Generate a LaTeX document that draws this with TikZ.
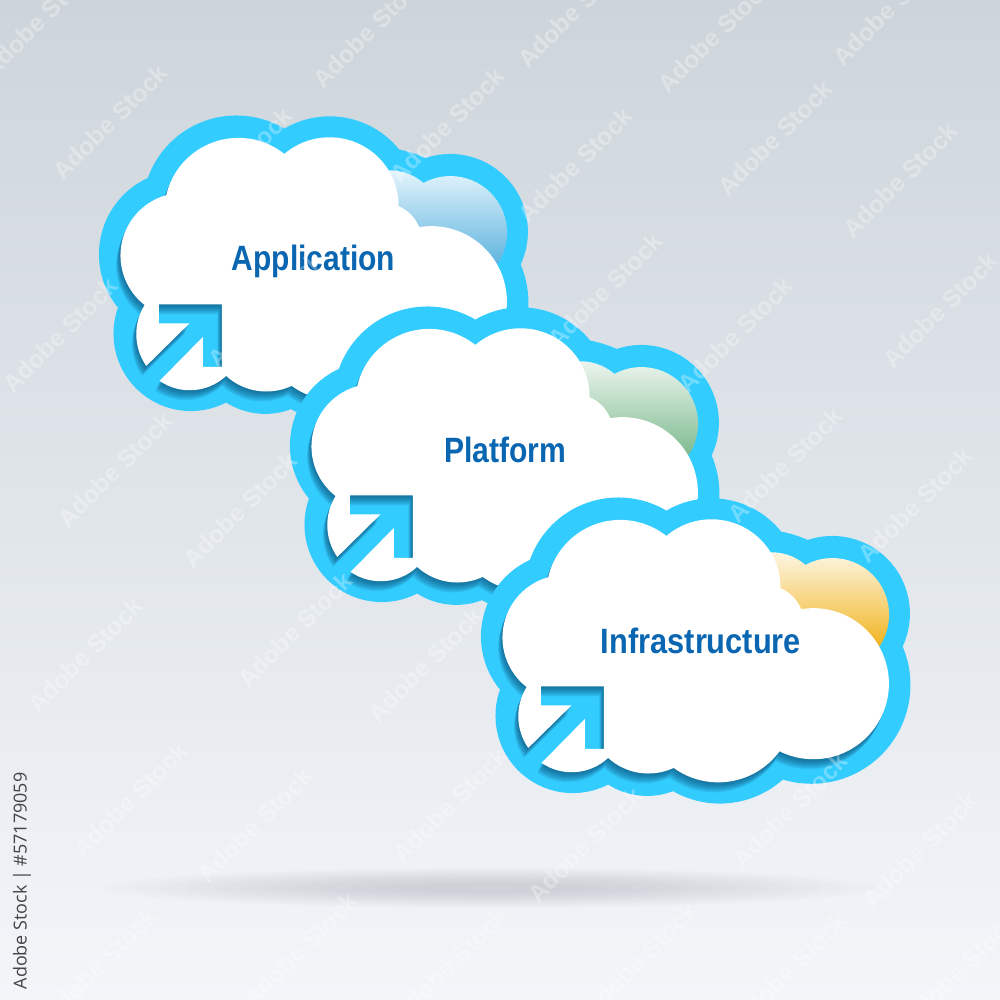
\documentclass[tikz,border=0pt]{standalone}
\usepackage{fontspec}
\usepackage{graphicx}
\setmainfont{Liberation Sans}
\newfontfamily\sidefont{Open Sans}
\definecolor{ringblue}{HTML}{33CCFF}
\definecolor{labelblue}{HTML}{0A66B0}
\definecolor{shadeblue}{HTML}{0B4F78}
\definecolor{bgtop}{HTML}{CDD5DB}
\definecolor{bgbottom}{HTML}{F3F5F9}
\definecolor{groundgrey}{HTML}{5A5A66}
\definecolor{sidegrey}{HTML}{444444}
\definecolor{bluetop}{HTML}{E6F5FC}
\definecolor{bluebot}{HTML}{5FB4DF}
\definecolor{greentop}{HTML}{EFF6F0}
\definecolor{greenbot}{HTML}{7DBB90}
\definecolor{goldtop}{HTML}{FEF8E8}
\definecolor{goldbot}{HTML}{F0B420}
% one clockwise arc through three points; appended to \curpath
\newcommand\lobe[6]{%
 \pgfmathsetmacro\xa{#1/100}\pgfmathsetmacro\ya{#2/100}%
 \pgfmathsetmacro\xb{#3/100}\pgfmathsetmacro\yb{#4/100}%
 \pgfmathsetmacro\xc{#5/100}\pgfmathsetmacro\yc{#6/100}%
 \pgfmathsetmacro\dd{2*(\xa*(\yb-\yc)+\xb*(\yc-\ya)+\xc*(\ya-\yb))}%
 \pgfmathsetmacro\sa{\xa*\xa+\ya*\ya}\pgfmathsetmacro\sb{\xb*\xb+\yb*\yb}\pgfmathsetmacro\sc{\xc*\xc+\yc*\yc}%
 \pgfmathsetmacro\ux{(\sa*(\yb-\yc)+\sb*(\yc-\ya)+\sc*(\ya-\yb))/\dd}%
 \pgfmathsetmacro\uy{(\sa*(\xc-\xb)+\sb*(\xa-\xc)+\sc*(\xb-\xa))/\dd}%
 \pgfmathsetmacro\ca{atan2(\ya-\uy,\xa-\ux)}%
 \pgfmathsetmacro\cb{atan2(\yc-\uy,\xc-\ux)}%
 \pgfmathsetmacro\cb{\cb<\ca?\cb+360:\cb}%
 \pgfmathsetmacro\rr{100*sqrt((\xa-\ux)*(\xa-\ux)+(\ya-\uy)*(\ya-\uy))}%
 \xdef\curpath{\curpath -- (#1,#2) arc[start angle=\ca,end angle=\cb,radius=\rr]}%
}
\gdef\curpath{(145,775)}
\lobe{145}{775}{115}{680}{140}{592}
\lobe{140}{592}{68}{430}{205}{262}
\lobe{205}{262}{370}{96}{560}{138}
\lobe{560}{138}{700}{88}{875}{190}
\lobe{875}{190}{896}{240}{903}{295}
\lobe{903}{295}{940}{320}{965}{358}
\lobe{965}{358}{1227}{610}{900}{785}
\lobe{900}{785}{730}{878}{582}{835}
\lobe{582}{835}{480}{850}{385}{805}
\lobe{385}{805}{270}{848}{185}{820}
\xdef\whitepath{\curpath -- (185,820) -- (315,688) -- (315,778) -- (372,778) -- (372,590) -- (183,590) -- (183,647) -- (275,647) -- cycle}
\gdef\curpath{(60,600)}
\lobe{60}{600}{3}{450}{150}{210}
\lobe{150}{210}{360}{28}{560}{62}
\lobe{560}{62}{700}{25}{905}{125}
\lobe{905}{125}{945}{135}{985}{150}
\lobe{985}{150}{1226}{209}{1270}{470}
\lobe{1270}{470}{1293}{600}{910}{870}
\lobe{910}{870}{730}{942}{580}{905}
\lobe{580}{905}{480}{918}{385}{885}
\lobe{385}{885}{115}{843}{60}{600}
\xdef\outerpath{\curpath -- cycle}
\gdef\curpath{(860,188)}
\lobe{860}{188}{925}{195}{978}{225}
\lobe{978}{225}{1180}{255}{1200}{470}
\xdef\backlobe{\curpath -- (1000,470) -- (860,470) -- cycle}
\newcommand\cloudlayer[4]{%
 \begin{scope}[shift={(#1,#2)},x=.0033333cm,y=-.0033333cm]
  \fill[ringblue] \outerpath;
  \shade[top color=#3,bottom color=#4] \backlobe;
  \begin{scope}
   \clip \outerpath;
   \foreach \k in {1,...,10}{
    \begin{scope}[shift={(-1.3*\k,3*\k)}]
     \fill[shadeblue,opacity=.1] \whitepath;
    \end{scope}}
  \end{scope}
  \fill[white] \whitepath;
 \end{scope}}
\tikzset{
 cloudlabel/.style={anchor=base,text=labelblue,font=\fontsize{10}{12}\selectfont\bfseries,inner sep=0pt},
 wmark/.style={rotate=45,text=white,text opacity=.3,font=\fontsize{7}{8}\selectfont\bfseries,inner sep=0pt}
}
\begin{document}
\begin{tikzpicture}[x=.01cm,y=-.01cm]
 \useasboundingbox (0,0) rectangle (1000,1000);
 \shade[top color=bgtop,bottom color=bgbottom] (0,0) rectangle (1000,1000);
 \foreach \s in {1,.93,...,.2}{
  \fill[groundgrey,opacity=.014] (490,888) ellipse ({385*\s} and {20*\s});
 }
 \cloudlayer{98}{108}{bluetop}{bluebot}
 \cloudlayer{289}{299}{greentop}{greenbot}
 \cloudlayer{480}{490}{goldtop}{goldbot}
 \node[cloudlabel] (application) at (313.5,270) {\scalebox{.852}[1]{Application}};
 \node[cloudlabel] (platform) at (505,462) {\scalebox{.855}[1]{Platform}};
 \node[cloudlabel] (infrastructure) at (701,653) {\scalebox{.875}[1]{Infrastructure}};
 \foreach \wx/\wy [count=\i] in {40/20,110/122,235/165,370/30,447/125,575/165,575/10,715/35,775/138,900/180,890/8,60/335,265/310,605/290,735/335,940/310,115/470,240/510,785/465,915/505,85/655,295/630,425/665,130/800,255/825,450/805,585/845,790/810,920/850,100/965,300/950,450/965,640/960,790/970,960/970}{
  \node[wmark] (wm\i) at (\wx,\wy) {Adobe Stock};
 }
 \node[rotate=90,text=sidegrey,font=\sidefont\fontsize{5.1}{6}\selectfont,inner sep=0pt] (sidelabel) at (22,881) {Adobe Stock | \#57179059};
\end{tikzpicture}
\end{document}
